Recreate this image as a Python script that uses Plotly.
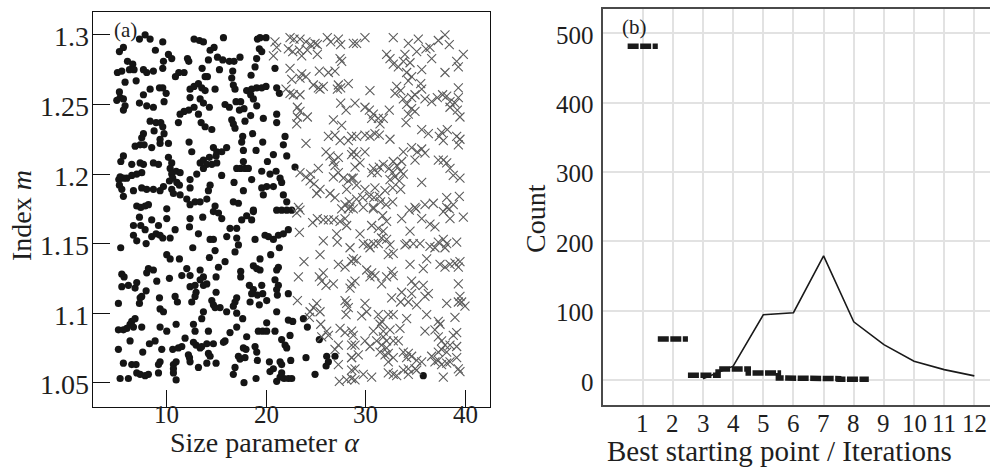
import plotly.graph_objects as go

# ---------------- panel (a): size parameter vs. refractive index ----------------
# filled dots: runs where the first starting point was the best one
dot_alpha = (
    [7.27, 7.84, 8.34, 9.61, 12.75, 13.29, 13.69, 15.7, 5.66, 5.26]
    + [8.87, 14.36, 14.76, 10.18, 15.1, 10.51, 12.09, 12.22, 14.19, 15.63]
    + [9.68, 6.07, 6.6, 5.06, 5.5, 6.27, 6.73, 7.67, 8.0, 8.67]
    + [9.61, 11.22, 11.75, 13.56, 15.3, 6.94, 10.88, 13.86, 14.09, 5.83]
    + [5.26, 8.34, 9.28, 9.61, 12.35, 12.75, 13.19, 13.52, 13.86, 14.86]
    + [5.33, 5.66, 5.0, 7.67, 9.95, 7.27, 8.0, 8.67, 9.74, 12.35]
    + [13.36, 12.75, 12.22, 13.69, 14.29, 5.83, 5.66, 11.75, 11.35, 13.19]
    + [8.34, 8.94, 9.41, 11.18, 13.46, 13.86, 9.61, 8.74, 9.74, 7.67]
    + [14.53, 7.5, 9.34, 6.84, 7.34, 7.74, 8.5, 9.34, 10.18, 12.25]
    + [12.52, 14.69, 15.03, 5.66, 5.4, 6.5, 7.34, 7.67, 8.67, 9.18]
    + [10.18, 10.51, 13.36, 13.69, 14.29, 14.96, 14.03, 14.53, 15.03, 15.53]
    + [10.35, 13.69, 10.95, 11.35, 7.5, 7.0, 6.5, 6.0, 5.66, 5.2]
    + [5.33, 10.51, 10.61, 13.02, 12.35, 10.28, 11.02, 11.28, 5.26, 5.5]
    + [6.67, 7.5, 8.0, 8.67, 9.34, 9.68, 10.51, 10.68, 11.35, 12.35]
    + [14.19, 14.36, 5.66, 12.02, 12.35, 12.85, 13.36, 14.03, 7.0, 7.4]
    + [7.84, 8.17, 14.86]
    + [19.1, 19.37, 19.97, 19.3, 19.54, 19.03, 16.29, 16.76, 17.36, 16.63]
    + [18.87, 18.47, 20.87, 16.53, 16.69, 16.86, 18.03, 18.53, 19.04, 19.54]
    + [19.97, 18.43, 18.7, 21.04, 21.31, 15.86, 16.29, 16.96, 17.43, 17.3]
    + [17.76, 18.43, 19.04, 16.53, 16.69, 16.86, 17.86, 19.7, 21.04, 21.04]
    + [17.63, 17.53, 17.7, 18.63, 19.64, 21.88, 16.02, 18.97, 21.71, 20.71]
    + [22.05, 17.7, 20.11, 17.03, 17.43, 17.86, 18.2, 19.54, 20.37, 20.98]
    + [21.38, 21.54, 22.88, 15.52, 16.76, 18.53, 19.54, 20.04, 20.71, 17.7]
    + [19.7, 21.71, 22.05, 16.69, 17.2, 18.7, 21.04, 21.54, 22.05, 22.55]
    + [7.27, 6.67, 7.4, 7.84, 8.5, 9.18, 10.01, 10.01, 12.35, 12.29]
    + [13.62, 14.69, 15.2, 15.53, 6.67, 7.0, 7.94, 8.5, 8.94, 9.34]
    + [9.61, 10.35, 10.85, 13.19, 14.36, 14.69, 5.39, 12.62, 14.86, 10.01]
    + [10.35, 11.28, 14.29, 15.2, 8.17, 8.67, 8.0, 12.02, 11.52, 12.35]
    + [13.36, 13.69, 13.36, 14.03, 13.69, 14.96, 5.5, 5.73, 10.28, 9.01]
    + [5.5, 6.16, 6.83, 7.0, 7.94, 7.34, 7.5, 7.27, 9.28, 10.85]
    + [11.08, 12.35, 12.85, 12.95, 12.85, 12.52, 14.53, 14.69, 15.36, 14.86]
    + [14.96, 5.16, 9.34, 9.68, 13.69, 13.52, 6.5, 6.33, 6.67, 6.0]
    + [6.83, 5.16, 5.66, 7.5, 9.34, 10.01, 10.95, 12.69, 12.85, 14.19]
    + [11.85, 6.33, 8.27, 8.84, 12.69, 12.95, 13.36, 13.52, 14.03, 14.19]
    + [14.36, 14.69, 15.7, 5.16, 7.6, 9.51, 10.61, 11.18, 11.52, 12.18]
    + [12.29, 12.35, 9.34, 9.18, 10.68, 10.95, 10.68, 13.19, 14.03, 14.96]
    + [5.66, 6.5, 6.93, 5.33, 6.16, 7.0, 7.34, 7.84, 8.17, 9.18]
    + [10.68, 10.95]
    + [16.36, 17.03, 17.53, 18.03, 18.53, 18.7, 16.03, 17.03, 17.2, 16.86]
    + [18.87, 19.87, 20.21, 20.71, 21.21, 21.71, 22.21, 21.31, 20.44, 19.37]
    + [15.86, 18.7, 19.04, 19.37, 21.21, 21.04, 17.43, 17.43, 20.87, 18.3]
    + [18.7, 18.53, 19.1, 19.64, 19.54, 20.04, 19.3, 18.37, 21.21, 21.04]
    + [21.11, 22.21, 17.03, 16.86, 16.69, 16.02, 17.03, 17.63, 21.04, 22.21]
    + [22.65, 23.72, 24.12, 20.04, 19.2, 19.64, 20.04, 20.87, 17.03, 16.36]
    + [15.86, 18.03, 21.54, 21.88, 22.05, 22.38, 25.32, 17.7, 17.96, 18.87]
    + [19.04, 17.2, 17.36, 17.86, 19.1, 20.31, 21.38, 21.54, 22.45, 23.98]
    + [26.06, 26.23, 26.0, 26.89, 16.86, 16.69, 17.76, 18.97, 20.37, 20.71]
    + [21.04, 21.38, 21.78, 22.21, 22.55, 21.54, 24.89, 35.75]
)
dot_m = (
    [1.297, 1.300, 1.297, 1.295, 1.297, 1.296, 1.295, 1.298, 1.291, 1.288]
    + [1.289, 1.289, 1.291, 1.286, 1.284, 1.283, 1.283, 1.281, 1.282, 1.282]
    + [1.281, 1.281, 1.279, 1.273, 1.274, 1.275, 1.275, 1.275, 1.273, 1.274]
    + [1.276, 1.273, 1.273, 1.276, 1.275, 1.267, 1.270, 1.270, 1.270, 1.266]
    + [1.259, 1.261, 1.262, 1.262, 1.261, 1.263, 1.265, 1.262, 1.260, 1.261]
    + [1.255, 1.254, 1.253, 1.257, 1.258, 1.251, 1.249, 1.248, 1.252, 1.255]
    + [1.254, 1.248, 1.246, 1.251, 1.248, 1.249, 1.246, 1.245, 1.243, 1.243]
    + [1.238, 1.237, 1.237, 1.237, 1.237, 1.234, 1.234, 1.231, 1.229, 1.229]
    + [1.232, 1.226, 1.225, 1.220, 1.221, 1.221, 1.219, 1.222, 1.222, 1.223]
    + [1.216, 1.219, 1.216, 1.213, 1.209, 1.207, 1.208, 1.207, 1.208, 1.207]
    + [1.212, 1.208, 1.208, 1.210, 1.212, 1.213, 1.207, 1.207, 1.208, 1.216]
    + [1.204, 1.204, 1.202, 1.201, 1.201, 1.200, 1.199, 1.197, 1.197, 1.196]
    + [1.198, 1.200, 1.197, 1.200, 1.196, 1.195, 1.194, 1.192, 1.192, 1.189]
    + [1.188, 1.190, 1.189, 1.189, 1.188, 1.191, 1.189, 1.186, 1.185, 1.190]
    + [1.188, 1.192, 1.184, 1.182, 1.178, 1.180, 1.180, 1.182, 1.177, 1.176]
    + [1.177, 1.178, 1.177]
    + [1.297, 1.298, 1.298, 1.290, 1.288, 1.283, 1.281, 1.281, 1.284, 1.274]
    + [1.277, 1.271, 1.276, 1.269, 1.264, 1.261, 1.260, 1.261, 1.262, 1.262]
    + [1.263, 1.257, 1.254, 1.262, 1.258, 1.250, 1.248, 1.252, 1.252, 1.246]
    + [1.247, 1.242, 1.249, 1.239, 1.236, 1.233, 1.238, 1.240, 1.243, 1.237]
    + [1.227, 1.223, 1.217, 1.229, 1.223, 1.227, 1.219, 1.217, 1.221, 1.214]
    + [1.213, 1.209, 1.209, 1.204, 1.204, 1.204, 1.204, 1.202, 1.200, 1.202]
    + [1.197, 1.194, 1.205, 1.199, 1.194, 1.196, 1.190, 1.191, 1.191, 1.188]
    + [1.185, 1.185, 1.180, 1.180, 1.179, 1.174, 1.174, 1.174, 1.174, 1.174]
    + [1.169, 1.163, 1.163, 1.160, 1.167, 1.163, 1.168, 1.175, 1.168, 1.162]
    + [1.169, 1.173, 1.172, 1.168, 1.156, 1.152, 1.150, 1.155, 1.157, 1.156]
    + [1.154, 1.154, 1.160, 1.157, 1.153, 1.153, 1.147, 1.147, 1.145, 1.142]
    + [1.139, 1.139, 1.140, 1.133, 1.132, 1.131, 1.129, 1.132, 1.127, 1.127]
    + [1.131, 1.126, 1.124, 1.121, 1.120, 1.126, 1.128, 1.126, 1.125, 1.123]
    + [1.119, 1.120, 1.118, 1.122, 1.116, 1.111, 1.112, 1.107, 1.111, 1.112]
    + [1.108, 1.119, 1.120, 1.115, 1.112, 1.108, 1.109, 1.106, 1.104, 1.104]
    + [1.115, 1.107, 1.103, 1.101, 1.101, 1.096, 1.094, 1.092, 1.090, 1.089]
    + [1.096, 1.088, 1.088, 1.090, 1.090, 1.087, 1.092, 1.092, 1.087, 1.087]
    + [1.082, 1.080, 1.078, 1.080, 1.079, 1.077, 1.075, 1.076, 1.078, 1.071]
    + [1.069, 1.078, 1.079, 1.074, 1.072, 1.074, 1.074, 1.075, 1.076, 1.070]
    + [1.068, 1.065, 1.065, 1.063, 1.063, 1.065, 1.060, 1.061, 1.064, 1.064]
    + [1.064, 1.063, 1.063, 1.053, 1.053, 1.057, 1.056, 1.055, 1.056, 1.057]
    + [1.057, 1.052]
    + [1.161, 1.161, 1.167, 1.170, 1.167, 1.173, 1.155, 1.154, 1.149, 1.144]
    + [1.153, 1.156, 1.155, 1.153, 1.156, 1.157, 1.160, 1.147, 1.142, 1.139]
    + [1.137, 1.134, 1.132, 1.131, 1.133, 1.131, 1.130, 1.126, 1.124, 1.120]
    + [1.117, 1.114, 1.113, 1.114, 1.120, 1.109, 1.106, 1.108, 1.120, 1.117]
    + [1.113, 1.114, 1.111, 1.108, 1.105, 1.101, 1.100, 1.096, 1.101, 1.095]
    + [1.094, 1.096, 1.090, 1.093, 1.087, 1.087, 1.087, 1.087, 1.090, 1.086]
    + [1.080, 1.083, 1.081, 1.077, 1.075, 1.084, 1.081, 1.075, 1.074, 1.076]
    + [1.072, 1.069, 1.067, 1.068, 1.066, 1.065, 1.065, 1.063, 1.066, 1.068]
    + [1.069, 1.065, 1.062, 1.069, 1.061, 1.056, 1.050, 1.053, 1.058, 1.060]
    + [1.051, 1.054, 1.053, 1.053, 1.053, 1.057, 1.056, 1.055]
)

# crosses: runs where a later starting point won
cross_alpha = (
    [20.87, 21.04, 20.71, 22.38, 22.78, 23.38, 23.98, 24.45, 24.89, 25.12]
    + [26.12, 26.46, 27.23, 27.46, 28.73, 22.21, 22.65, 23.32, 23.55, 24.12]
    + [25.12, 27.4, 27.56, 22.38, 23.55, 23.98, 23.38, 25.32, 26.23, 26.89]
    + [22.55, 24.72, 25.22, 25.72, 25.39, 27.23, 27.46, 27.13, 28.23, 21.98]
    + [22.38, 22.71, 23.38, 27.46, 28.0, 23.12, 23.38, 24.12, 23.12, 23.05]
    + [26.73, 27.56, 26.23, 26.89, 27.4, 28.23, 28.56, 23.98, 25.99, 26.39]
    + [26.73, 27.23, 28.56, 26.89, 27.23, 26.73, 27.73, 28.23, 28.56, 23.38]
    + [23.98, 24.45, 25.22, 24.39, 24.79, 25.39, 25.06, 26.39, 26.89, 28.06]
    + [28.33, 27.9, 23.22, 28.4]
    + [29.06, 29.9, 32.74, 34.25, 35.25, 36.02, 36.42, 37.26, 37.93, 38.36]
    + [32.07, 32.41, 32.74, 33.25, 33.75, 33.91, 34.42, 35.09, 35.59, 36.59]
    + [39.1, 39.77, 39.27, 34.08, 34.58, 34.25, 37.93, 30.4, 33.08, 33.48]
    + [32.91, 33.75, 34.58, 34.92, 35.49, 35.59, 35.92, 34.08, 34.58, 34.92]
    + [34.25, 36.59, 37.16, 37.69, 38.1, 38.43, 38.93, 39.27, 39.27, 38.43]
    + [39.17, 39.43, 28.9, 29.9, 30.34, 30.74, 31.24, 30.57, 31.74, 32.34]
    + [34.02, 31.41, 30.9, 31.34, 30.4, 29.9, 29.06, 32.41, 35.59, 36.26]
    + [37.59, 38.16, 37.76, 37.36, 39.1, 39.43, 39.27, 33.75, 34.58, 35.15]
    + [35.59, 35.92, 34.92, 37.26, 37.76, 38.1, 28.73, 29.06, 29.9, 29.4]
    + [28.9, 30.74, 31.34, 31.74, 30.57, 31.14, 32.34, 32.74, 33.08, 33.58]
    + [32.68, 33.48, 32.91, 33.75, 32.41, 33.35, 28.73, 29.06, 38.76, 39.43]
    + [38.43, 29.9, 30.9, 31.91, 32.68, 33.48, 35.59, 29.06, 29.67, 30.34]
    + [30.8, 31.34, 31.47, 32.01, 32.68, 30.74, 29.73, 34.92, 35.92, 36.76]
    + [38.1, 39.37, 38.1, 38.76]
    + [23.38, 23.05, 24.65, 25.12, 25.72, 26.23, 26.79, 27.4, 27.9, 28.06]
    + [28.23, 27.56, 23.32, 25.72, 27.06, 27.13, 28.4, 25.39, 23.78, 27.23]
    + [27.9, 28.56, 23.22, 25.32, 25.72, 25.56, 25.99, 26.73, 28.4, 23.12]
    + [25.06, 24.72, 24.39, 25.39, 24.32, 27.9, 28.06, 28.23, 28.0, 25.46]
    + [26.06, 26.23, 25.56, 27.4, 27.9, 28.56, 27.23, 26.89, 28.56, 27.23]
    + [28.56, 28.56, 27.33, 28.06, 28.56]
    + [28.73, 30.74, 31.67, 32.07, 33.58, 34.35, 35.02, 35.59, 36.42, 36.92]
    + [37.76, 38.36, 38.43, 39.77, 30.57, 31.24, 31.74, 31.57, 32.07, 34.42]
    + [34.08, 34.75, 29.4, 29.73, 30.23, 30.4, 30.74, 31.24, 32.41, 32.74]
    + [32.24, 28.73, 29.06, 33.91, 35.42, 36.42, 36.92, 37.26, 37.76, 38.1]
    + [37.93, 39.1, 36.09, 37.43, 37.93, 38.43, 38.93, 39.43, 39.27, 34.42]
    + [35.75, 30.07, 30.57, 30.4, 30.9, 31.57, 32.07, 32.58, 32.74, 28.56]
    + [28.9, 34.58, 34.92, 35.75, 36.26, 35.92, 33.58, 34.58, 34.25, 35.09]
    + [32.58, 33.48, 39.27, 39.43, 39.6, 39.93, 39.27, 38.1, 29.9, 29.57]
    + [30.07, 31.24, 31.57, 31.41, 32.24, 32.74, 33.41, 34.08, 31.74, 32.41]
    + [36.09, 35.92, 36.92, 37.26, 37.43, 38.93, 39.1, 28.73, 28.9, 29.23]
    + [29.9, 30.4, 30.74, 31.07, 31.74, 32.07, 31.57, 32.07, 32.74, 33.25]
    + [31.41, 31.91, 32.24, 32.74, 32.24, 33.75, 34.25, 34.58, 34.08, 35.09]
    + [35.59, 34.25, 33.75, 34.92, 37.26, 37.59, 37.93, 38.43, 38.76, 37.59]
    + [37.26, 38.1, 36.59, 36.92, 37.26, 37.59, 38.1, 38.43, 39.1, 39.27]
    + [39.43, 28.56, 28.9, 29.73, 30.57, 28.9, 32.24, 32.74, 33.08, 34.25]
    + [35.09, 37.76, 39.1]
)
cross_m = (
    [1.295, 1.291, 1.285, 1.298, 1.297, 1.297, 1.295, 1.293, 1.294, 1.293]
    + [1.298, 1.295, 1.297, 1.293, 1.294, 1.290, 1.288, 1.289, 1.285, 1.289]
    + [1.286, 1.283, 1.281, 1.276, 1.272, 1.270, 1.269, 1.274, 1.273, 1.274]
    + [1.268, 1.264, 1.262, 1.263, 1.261, 1.264, 1.262, 1.261, 1.265, 1.261]
    + [1.258, 1.257, 1.257, 1.251, 1.246, 1.248, 1.245, 1.241, 1.241, 1.236]
    + [1.239, 1.235, 1.227, 1.228, 1.224, 1.224, 1.227, 1.222, 1.216, 1.213]
    + [1.209, 1.212, 1.214, 1.206, 1.201, 1.198, 1.197, 1.195, 1.197, 1.201]
    + [1.198, 1.200, 1.204, 1.195, 1.193, 1.189, 1.186, 1.186, 1.183, 1.189]
    + [1.180, 1.178, 1.176, 1.176]
    + [1.294, 1.298, 1.298, 1.294, 1.297, 1.290, 1.291, 1.296, 1.300, 1.293]
    + [1.286, 1.283, 1.279, 1.277, 1.281, 1.286, 1.280, 1.288, 1.275, 1.283]
    + [1.281, 1.286, 1.277, 1.273, 1.270, 1.267, 1.273, 1.260, 1.263, 1.260]
    + [1.258, 1.254, 1.255, 1.257, 1.265, 1.261, 1.254, 1.250, 1.247, 1.245]
    + [1.243, 1.252, 1.255, 1.257, 1.256, 1.252, 1.251, 1.255, 1.262, 1.248]
    + [1.246, 1.241, 1.251, 1.248, 1.246, 1.243, 1.240, 1.240, 1.240, 1.246]
    + [1.237, 1.236, 1.229, 1.228, 1.227, 1.228, 1.227, 1.225, 1.232, 1.229]
    + [1.230, 1.232, 1.224, 1.227, 1.227, 1.225, 1.221, 1.216, 1.219, 1.216]
    + [1.218, 1.215, 1.210, 1.210, 1.210, 1.208, 1.216, 1.214, 1.216, 1.208]
    + [1.205, 1.204, 1.205, 1.207, 1.201, 1.201, 1.204, 1.209, 1.206, 1.209]
    + [1.201, 1.202, 1.198, 1.200, 1.196, 1.195, 1.197, 1.192, 1.199, 1.197]
    + [1.204, 1.189, 1.190, 1.188, 1.190, 1.189, 1.194, 1.182, 1.183, 1.184]
    + [1.183, 1.184, 1.180, 1.178, 1.180, 1.176, 1.176, 1.176, 1.178, 1.179]
    + [1.183, 1.184, 1.176, 1.178]
    + [1.174, 1.172, 1.165, 1.168, 1.167, 1.167, 1.167, 1.166, 1.168, 1.163]
    + [1.175, 1.175, 1.158, 1.152, 1.157, 1.151, 1.147, 1.142, 1.137, 1.135]
    + [1.133, 1.137, 1.126, 1.126, 1.129, 1.123, 1.120, 1.121, 1.118, 1.109]
    + [1.107, 1.104, 1.101, 1.101, 1.097, 1.109, 1.107, 1.104, 1.099, 1.092]
    + [1.087, 1.084, 1.083, 1.089, 1.086, 1.087, 1.077, 1.074, 1.077, 1.063]
    + [1.068, 1.059, 1.051, 1.052, 1.053]
    + [1.175, 1.175, 1.170, 1.166, 1.168, 1.174, 1.175, 1.168, 1.164, 1.162]
    + [1.173, 1.175, 1.168, 1.169, 1.163, 1.161, 1.159, 1.154, 1.153, 1.159]
    + [1.150, 1.150, 1.157, 1.150, 1.149, 1.147, 1.150, 1.150, 1.149, 1.143]
    + [1.142, 1.139, 1.138, 1.149, 1.150, 1.148, 1.147, 1.151, 1.153, 1.150]
    + [1.147, 1.151, 1.139, 1.135, 1.133, 1.135, 1.136, 1.137, 1.133, 1.135]
    + [1.132, 1.131, 1.129, 1.126, 1.127, 1.121, 1.126, 1.130, 1.127, 1.121]
    + [1.123, 1.123, 1.120, 1.120, 1.114, 1.112, 1.115, 1.114, 1.108, 1.106]
    + [1.111, 1.108, 1.121, 1.112, 1.108, 1.105, 1.108, 1.107, 1.107, 1.098]
    + [1.101, 1.099, 1.094, 1.092, 1.099, 1.099, 1.089, 1.096, 1.087, 1.088]
    + [1.099, 1.087, 1.088, 1.094, 1.092, 1.097, 1.086, 1.084, 1.077, 1.070]
    + [1.080, 1.076, 1.087, 1.080, 1.083, 1.080, 1.077, 1.075, 1.080, 1.080]
    + [1.072, 1.070, 1.071, 1.068, 1.065, 1.072, 1.071, 1.069, 1.068, 1.066]
    + [1.065, 1.060, 1.059, 1.060, 1.083, 1.080, 1.077, 1.077, 1.084, 1.074]
    + [1.072, 1.072, 1.069, 1.065, 1.066, 1.063, 1.064, 1.065, 1.068, 1.060]
    + [1.058, 1.068, 1.060, 1.056, 1.054, 1.052, 1.057, 1.056, 1.055, 1.056]
    + [1.059, 1.054, 1.076]
)

alpha_ticks = [10, 20, 30, 40]
m_ticks = [1.05, 1.1, 1.15, 1.2, 1.25, 1.3]
m_tick_text = ["1.05", "1.1", "1.15", "1.2", "1.25", "1.3"]

# ---------------- panel (b): histograms ----------------
best_start = [1, 2, 3, 4, 5, 6, 7, 8]
best_count = [481, 59, 7, 16, 10, 3, 2, 1]
iterations = [3, 4, 5, 6, 7, 8, 9, 10, 11, 12]
iteration_count = [2, 20, 94, 97, 179, 84, 51, 27, 15, 6]
count_ticks = [0, 100, 200, 300, 400, 500]
bin_ticks = list(range(1, 13))

SERIF = "Liberation Serif, Times New Roman, serif"
INK = "#1e1e1e"

fig = go.Figure()

fig.add_trace(go.Scatter(
    x=dot_alpha, y=dot_m, mode="markers", xaxis="x", yaxis="y",
    marker=dict(symbol="circle", size=7.2, color="#151515", line=dict(width=0)),
    showlegend=False, hoverinfo="skip",
))
fig.add_trace(go.Scatter(
    x=cross_alpha, y=cross_m, mode="markers", xaxis="x", yaxis="y",
    marker=dict(symbol="x-thin", size=9, color="#5c5c5c",
                line=dict(color="#5c5c5c", width=1.1)),
    showlegend=False, hoverinfo="skip",
))

# step outline of the best-starting-point histogram (break on large jumps)
step_x, step_y = [], []
for i, (b, c) in enumerate(zip(best_start, best_count)):
    if i and abs(c - best_count[i - 1]) > 20:
        step_x.append(None)
        step_y.append(None)
    step_x += [b - 0.5, b + 0.5]
    step_y += [c, c]

fig.add_trace(go.Scatter(
    x=step_x, y=step_y, mode="lines", xaxis="x2", yaxis="y2",
    line=dict(color="#1a1a1a", width=5.5, dash="11px,1.5px"),
    showlegend=False, hoverinfo="skip",
))
fig.add_trace(go.Scatter(
    x=iterations, y=iteration_count, mode="lines", xaxis="x2", yaxis="y2",
    line=dict(color="#1a1a1a", width=1.6),
    showlegend=False, hoverinfo="skip",
))

fig.update_layout(
    width=990, height=468,
    margin=dict(l=0, r=0, t=0, b=0),
    paper_bgcolor="white", plot_bgcolor="white",
    showlegend=False,
    xaxis=dict(
        domain=[0.0939, 0.4949], range=[2.606, 42.44], anchor="y",
        tickvals=alpha_ticks, ticks="inside", ticklen=17, tickwidth=1.2,
        tickcolor="#111", showline=True, mirror=True, linecolor="#111",
        linewidth=1.4, showgrid=False, zeroline=False, showticklabels=False,
    ),
    yaxis=dict(
        domain=[0.1303, 0.9744], range=[1.0325, 1.3165], anchor="x",
        tickvals=m_ticks, ticks="inside", ticklen=17,
        tickwidth=1.2, tickcolor="#111", showline=True, mirror=True,
        linecolor="#111", linewidth=1.4, showgrid=False, zeroline=False,
        showticklabels=False,
    ),
    xaxis2=dict(
        domain=[0.6088, 1.0], range=[-0.327, 12.52], anchor="y2",
        tickvals=bin_ticks, ticks="", showline=True, mirror=True,
        linecolor="#4a4a4a", linewidth=2, showgrid=True,
        gridcolor="#e2e2e2", gridwidth=1.6, zeroline=False,
        showticklabels=False,
    ),
    yaxis2=dict(
        domain=[0.1346, 0.9801], range=[-36, 534.4], anchor="x2",
        tickvals=count_ticks, ticks="", showline=True, mirror=False,
        linecolor="#4a4a4a", linewidth=2, showgrid=True,
        gridcolor="#e2e2e2", gridwidth=1.6, zeroline=False,
        showticklabels=False,
    ),
)

H, W = 468.0, 990.0
annotations = []


def label(text, x, y, size, xref="paper", yref="paper", xanchor="center",
          yanchor="middle", angle=0, yshift=0):
    annotations.append(dict(
        text=text, x=x, y=y, xref=xref, yref=yref, xanchor=xanchor,
        yanchor=yanchor, textangle=angle, yshift=yshift, showarrow=False,
        font=dict(family=SERIF, size=size, color=INK),
    ))


# tick labels, placed at the axis values
for v in alpha_ticks:
    label(str(v), v, 1 - 414.5 / H, 25, xref="x")
for v, t in zip(m_ticks, m_tick_text):
    label(t, 91 / W, v, 28, yref="y", xanchor="right", yshift=-2)
for v in bin_ticks:
    label(str(v), v, 1 - 423 / H, 25, xref="x2")
for v in count_ticks:
    label(str(v), 596 / W, v, 25, yref="y2", xanchor="right", yshift=-2)

# axis titles and panel tags
label("Size parameter <i>α</i>", 264.5 / W, 1 - 442.5 / H, 28)
label("Index <i>m</i>", 21 / W, 1 - 216 / H, 28, angle=-90)
label("Best starting point / Iterations", 779 / W, 1 - 451 / H, 29)
label("Count", 535 / W, 1 - 219 / H, 28, angle=-90)
label("(a)", 125 / W, 1 - 30 / H, 21)
label("(b)", 634 / W, 1 - 27 / H, 21)

fig.update_layout(annotations=annotations)

fig.write_html("out.html")
